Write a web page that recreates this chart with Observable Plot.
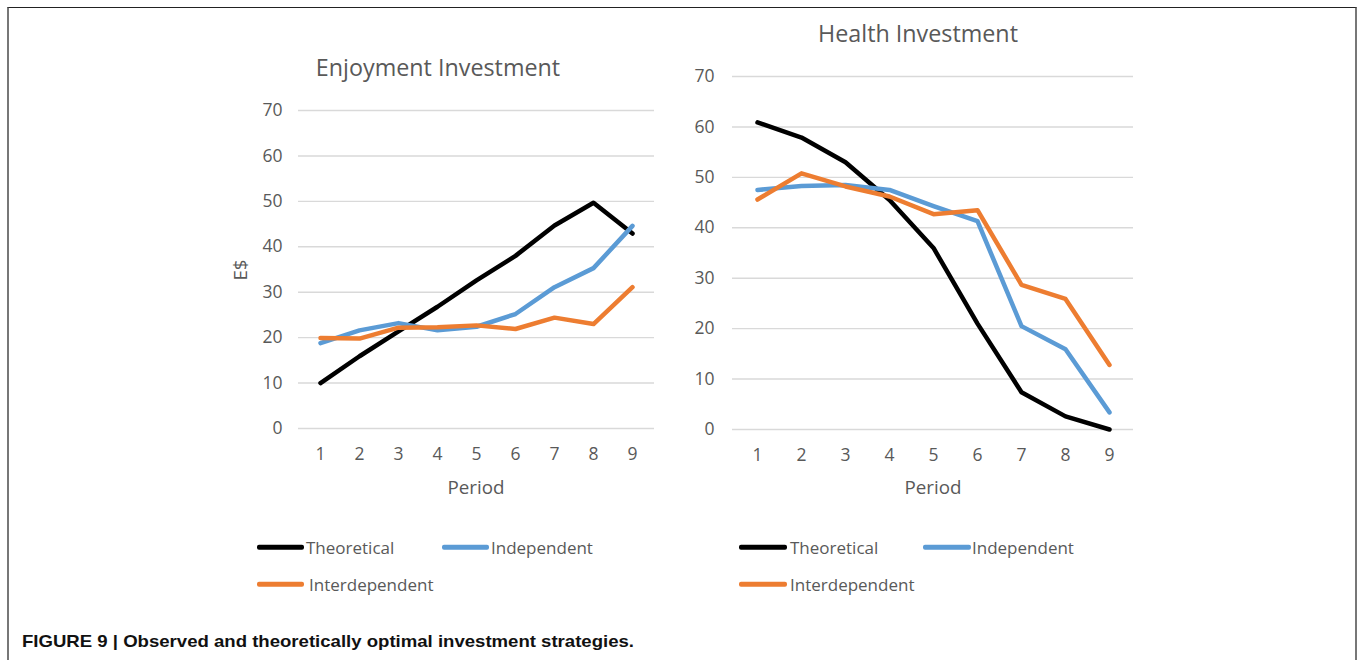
<!DOCTYPE html>
<html>
<head>
<meta charset="utf-8">
<script src="https://cdn.jsdelivr.net/npm/d3@7"></script>
<script src="https://cdn.jsdelivr.net/npm/@observablehq/plot@0.6"></script>
<style>
  body { margin: 0; background: #fff; font-family: "Open Sans", sans-serif; }
  #page { position: relative; width: 1358px; height: 660px; overflow: hidden; background: #fff; }
  .abs { position: absolute; white-space: nowrap; }
  .frame { position: absolute; left: 7px; top: 7px; width: 1346px; height: 700px;
           border-top: 1.5px solid #222; border-left: 2px solid #777; border-right: 2px solid #777; }
  .title { color: #595959; font-size: 23.3px; transform: translate(-50%, -50%); }
  .axlab { color: #595959; font-size: 18.8px; transform: translate(-50%, -50%); }
  .leg { color: #595959; font-size: 17px; transform: translateY(-50%); }
  .sw { position: absolute; height: 4.5px; border-radius: 2px; transform: translateY(-50%); }
  .chart { position: absolute; }
</style>
</head>
<body>
<div id="page">
  <div class="frame"></div>
</div>
<script>
const periods = [1, 2, 3, 4, 5, 6, 7, 8, 9];
const yTicks = [0, 10, 20, 30, 40, 50, 60, 70];
const seriesNames = ["Theoretical", "Independent", "Interdependent"];
const seriesColors = ["#000000", "#5b9bd5", "#ed7d31"];

const enjTheoretical    = [10.0, 15.9, 21.4, 26.8, 32.6, 38.0, 44.7, 49.7, 42.9];
const enjIndependent    = [18.8, 21.6, 23.2, 21.6, 22.4, 25.2, 31.1, 35.3, 44.6];
const enjInterdependent = [19.9, 19.8, 22.2, 22.3, 22.7, 21.9, 24.4, 23.0, 31.1];

const hlthTheoretical    = [60.9, 57.9, 53.0, 45.5, 36.0, 21.0, 7.4, 2.6, 0.0];
const hlthIndependent    = [47.5, 48.3, 48.5, 47.5, 44.3, 41.3, 20.5, 15.9, 3.4];
const hlthInterdependent = [45.6, 50.8, 48.2, 46.2, 42.7, 43.5, 28.7, 25.9, 12.8];

function toRows(arr) { return periods.map((p, i) => ({ period: p, value: arr[i] })); }

function makeChart(seriesArrays, opts) {
  const marks = [
    Plot.gridY(yTicks, { stroke: "#d9d9d9", strokeOpacity: 1, strokeWidth: 1.4 }),
    Plot.axisY(yTicks, { tickSize: 0, tickPadding: opts.yPad, fontSize: 17.5, label: null }),
    Plot.axisX(periods, { tickSize: 0, tickPadding: 19, fontSize: 17.5, label: null })
  ];
  seriesArrays.forEach((arr, i) => {
    marks.push(Plot.lineY(toRows(arr), {
      x: "period", y: "value", stroke: seriesColors[i], strokeWidth: 4.5,
      strokeLinejoin: "round", strokeLinecap: "round"
    }));
  });
  return Plot.plot({
    width: opts.width, height: opts.height,
    marginLeft: opts.ml, marginRight: opts.mr, marginTop: opts.mt, marginBottom: opts.mb,
    x: { type: "point", domain: periods, padding: 0.5, label: null },
    y: { domain: [0, 70], label: null },
    style: { fontFamily: "Open Sans", color: "#595959", background: "transparent", overflow: "visible" },
    marks
  });
}

const page = document.getElementById("page");
function add(el, left, top) { el.classList.add("chart"); el.style.left = left + "px"; el.style.top = top + "px"; page.appendChild(el); }
function text(cls, str, left, top, extra) {
  const d = document.createElement("div");
  d.className = "abs " + cls; d.textContent = str;
  d.style.left = left + "px"; d.style.top = top + "px";
  if (extra) Object.assign(d.style, extra);
  page.appendChild(d); return d;
}
function swatch(color, left, top, w) {
  const d = document.createElement("div");
  d.className = "sw"; d.style.background = color;
  d.style.left = left + "px"; d.style.top = top + "px"; d.style.width = w + "px";
  page.appendChild(d);
}

// Left chart: plot area x 298..654, y 110..428
add(makeChart([enjTheoretical, enjIndependent, enjInterdependent],
  { width: 450, height: 470, ml: 78, mr: 16, mt: 70, mb: 82, yPad: 16 }), 220, 40);
// Right chart: plot area x 732..1133, y 76..429
add(makeChart([hlthTheoretical, hlthIndependent, hlthInterdependent],
  { width: 490, height: 490, ml: 72, mr: 17, mt: 56, mb: 81, yPad: 18 }), 660, 20);

text("title", "Enjoyment Investment", 438, 67);
text("title", "Health Investment", 918, 33);
text("axlab", "Period", 476, 487);
text("axlab", "Period", 933, 487);
text("axlab", "E$", 240, 270, { transform: "translate(-50%, -50%) rotate(-90deg)" });

// Legends
swatch(seriesColors[0], 257, 547, 47); text("leg", seriesNames[0], 306, 547);
swatch(seriesColors[1], 442, 547, 47); text("leg", seriesNames[1], 491, 547);
swatch(seriesColors[2], 257, 584, 47); text("leg", " " + seriesNames[2], 309, 584);

swatch(seriesColors[0], 739, 547, 48); text("leg", seriesNames[0], 790, 547);
swatch(seriesColors[1], 923, 547, 48); text("leg", seriesNames[1], 972, 547);
swatch(seriesColors[2], 739, 584, 48); text("leg", seriesNames[2], 790, 584);

// Caption
const ns = "http://www.w3.org/2000/svg";
const cap = document.createElementNS(ns, "svg");
cap.setAttribute("width", 700); cap.setAttribute("height", 30);
cap.style.position = "absolute"; cap.style.left = "0px"; cap.style.top = "626px";
const t = document.createElementNS(ns, "text");
t.setAttribute("x", 22); t.setAttribute("y", 21);
t.setAttribute("font-family", "Liberation Sans, Arial, sans-serif");
t.setAttribute("font-weight", "bold"); t.setAttribute("font-size", 17);
t.setAttribute("fill", "#111");
t.setAttribute("textLength", 612); t.setAttribute("lengthAdjust", "spacingAndGlyphs");
t.textContent = "FIGURE 9 | Observed and theoretically optimal investment strategies.";
cap.appendChild(t);
page.appendChild(cap);
</script>
</body>
</html>
